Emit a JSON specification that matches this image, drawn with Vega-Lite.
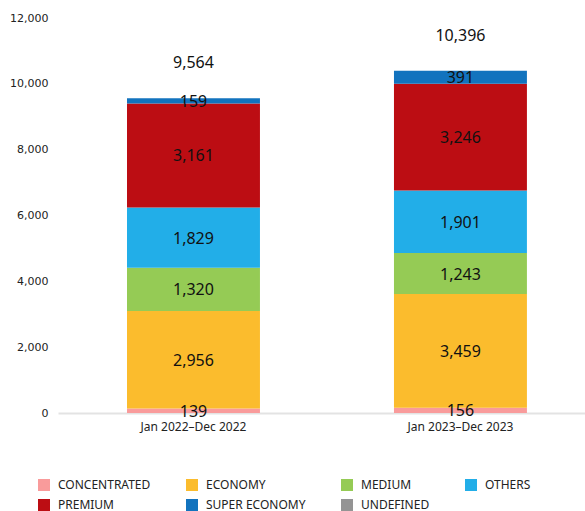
{
  "$schema": "https://vega.github.io/schema/vega-lite/v6.json",
  "width": 527,
  "height": 395,
  "autosize": {"type": "none"},
  "padding": {"left": 58, "top": 18, "right": 0, "bottom": 98},
  "background": "white",
  "config": {
    "view": {"stroke": null},
    "axisY": {"grid": false, "domain": false, "ticks": false,
              "labelFont": "DejaVu Sans", "labelFontSize": 11, "labelColor": "#222", "labelPadding": 10, "title": null}
  },
  "datasets": {
    "seg": [
      {"period": "Jan 2022–Dec 2022", "segment": "CONCENTRATED", "order": 1, "value": 139},
      {"period": "Jan 2022–Dec 2022", "segment": "ECONOMY", "order": 2, "value": 2956},
      {"period": "Jan 2022–Dec 2022", "segment": "MEDIUM", "order": 3, "value": 1320},
      {"period": "Jan 2022–Dec 2022", "segment": "OTHERS", "order": 4, "value": 1829},
      {"period": "Jan 2022–Dec 2022", "segment": "PREMIUM", "order": 5, "value": 3161},
      {"period": "Jan 2022–Dec 2022", "segment": "SUPER ECONOMY", "order": 6, "value": 159},
      {"period": "Jan 2022–Dec 2022", "segment": "UNDEFINED", "order": 7, "value": 0},
      {"period": "Jan 2023–Dec 2023", "segment": "CONCENTRATED", "order": 1, "value": 156},
      {"period": "Jan 2023–Dec 2023", "segment": "ECONOMY", "order": 2, "value": 3459},
      {"period": "Jan 2023–Dec 2023", "segment": "MEDIUM", "order": 3, "value": 1243},
      {"period": "Jan 2023–Dec 2023", "segment": "OTHERS", "order": 4, "value": 1901},
      {"period": "Jan 2023–Dec 2023", "segment": "PREMIUM", "order": 5, "value": 3246},
      {"period": "Jan 2023–Dec 2023", "segment": "SUPER ECONOMY", "order": 6, "value": 391},
      {"period": "Jan 2023–Dec 2023", "segment": "UNDEFINED", "order": 7, "value": 0}
    ],
    "tot": [
      {"period": "Jan 2022–Dec 2022", "total": 9564},
      {"period": "Jan 2023–Dec 2023", "total": 10396}
    ]
  },
  "encoding": {
    "x": {
      "field": "period", "type": "nominal", "title": null,
      "scale": {"paddingInner": 0.502, "paddingOuter": 0.238, "align": 0.543},
      "axis": {"labelAngle": 0, "ticks": false, "domainColor": "#e3e3e3", "domainWidth": 2,
               "labelFont": "Noto Sans", "labelFontSize": 12, "labelColor": "#222", "labelPadding": 8}
    }
  },
  "layer": [
    {
      "data": {"name": "seg"},
      "mark": {"type": "bar"},
      "encoding": {
        "y": {"field": "value", "type": "quantitative", "stack": "zero", "title": null,
              "scale": {"domain": [0, 12000], "nice": false},
              "axis": {"values": [0, 2000, 4000, 6000, 8000, 10000, 12000], "format": ",d"}},
        "color": {
          "field": "segment", "type": "nominal",
          "scale": {
            "domain": ["CONCENTRATED", "ECONOMY", "MEDIUM", "OTHERS", "PREMIUM", "SUPER ECONOMY", "UNDEFINED"],
            "range": ["#F99B9B", "#FBBC2D", "#95CB55", "#22AEE8", "#BC0D13", "#1273BE", "#949494"]
          },
          "legend": {
            "title": null, "orient": "none", "legendX": -20, "legendY": 461,
            "direction": "horizontal", "columns": 4, "columnPadding": 35, "rowPadding": 8,
            "symbolType": "square", "symbolSize": 144, "symbolStrokeWidth": 0, "symbolOpacity": 1,
            "labelFont": "Noto Sans", "labelFontSize": 12, "labelColor": "#222", "labelOffset": 8
          }
        },
        "order": {"field": "order", "type": "quantitative"}
      }
    },
    {
      "data": {"name": "seg"},
      "transform": [
        {"stack": "value", "groupby": ["period"], "sort": [{"field": "order"}], "as": ["v0", "v1"]},
        {"filter": "datum.value > 0"},
        {"calculate": "(datum.v0 + datum.v1) / 2", "as": "mid"}
      ],
      "mark": {"type": "text", "font": "Noto Sans", "fontSize": 16, "color": "#111", "baseline": "middle", "dy": 1},
      "encoding": {
        "y": {"field": "mid", "type": "quantitative", "title": null,
              "axis": {"values": [0, 2000, 4000, 6000, 8000, 10000, 12000], "format": ",d"}},
        "text": {"field": "value", "type": "quantitative", "format": ","}
      }
    },
    {
      "data": {"name": "tot"},
      "mark": {"type": "text", "font": "Noto Sans", "fontSize": 16, "color": "#111", "baseline": "middle", "dy": -35},
      "encoding": {
        "y": {"field": "total", "type": "quantitative", "title": null,
              "axis": {"values": [0, 2000, 4000, 6000, 8000, 10000, 12000], "format": ",d"}},
        "text": {"field": "total", "type": "quantitative", "format": ","}
      }
    }
  ]
}
